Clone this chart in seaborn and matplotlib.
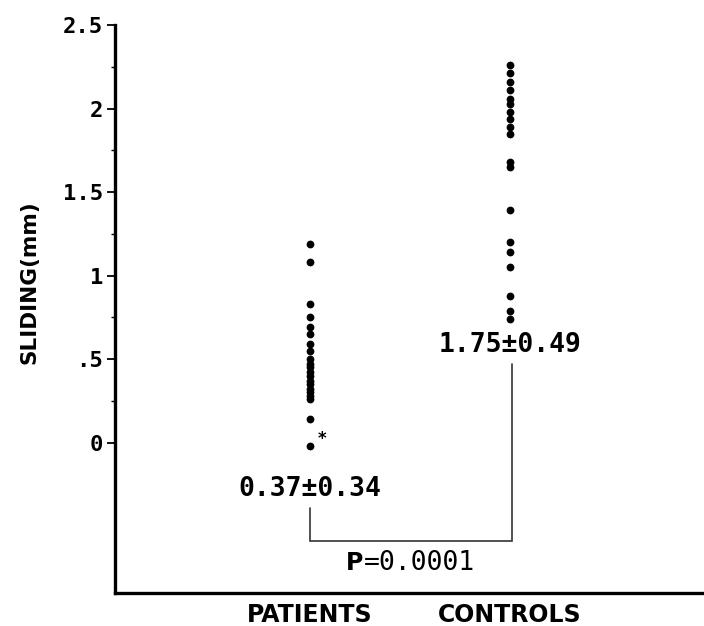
import matplotlib
matplotlib.use("Agg")
import matplotlib.pyplot as plt
import numpy as np
import pandas as pd
import seaborn as sns
from matplotlib.ticker import FixedLocator, FixedFormatter

# Sliding measurements (mm) for each group
patients = [1.19, 1.08, 0.83, 0.75, 0.69, 0.65, 0.59, 0.55, 0.50, 0.47, 0.45,
            0.42, 0.40, 0.37, 0.35, 0.32, 0.30, 0.28, 0.26, 0.14, -0.02]
controls = [2.26, 2.21, 2.16, 2.11, 2.06, 2.03, 1.98, 1.94, 1.89, 1.85, 1.68,
            1.65, 1.39, 1.20, 1.14, 1.05, 0.88, 0.79, 0.74]
groups = ["PATIENTS", "CONTROLS"]
group_stats = ["0.37\u00b10.34", "1.75\u00b10.49"]
p_value = "0.0001"
y_ticks = [0, 0.5, 1, 1.5, 2, 2.5]
y_tick_labels = ["0", ".5", "1", "1.5", "2", "2.5"]

df = pd.DataFrame({
    "group": [groups[0]] * len(patients) + [groups[1]] * len(controls),
    "sliding": patients + controls,
})

sns.set_theme(style="white")
plt.rcParams["font.family"] = ["DejaVu Sans"]
plt.rcParams["text.color"] = "black"
plt.rcParams["axes.labelcolor"] = "black"
plt.rcParams["xtick.color"] = "black"
plt.rcParams["ytick.color"] = "black"

fig = plt.figure(figsize=(7.04, 6.26), dpi=100)
ax = fig.add_axes([0.163, 0.053, 0.837, 0.907])

sns.stripplot(data=df, x="group", y="sliding", order=groups, jitter=False,
              color="black", size=5.6, linewidth=0, ax=ax)

# Outlier flag next to the lowest patient value
ax.text(0.06, 0.02, "*", ha="center", va="center", fontsize=12,
        fontweight="bold", color="black")

ax.set_xlim(-0.975, 1.97)
ax.set_ylim(-0.9, 2.5)

mono = "DejaVu Sans Mono"
ax.yaxis.set_major_locator(FixedLocator(y_ticks))
ax.yaxis.set_major_formatter(FixedFormatter(y_tick_labels))
ax.yaxis.set_minor_locator(FixedLocator([0.25, 0.75, 1.25, 1.75, 2.25]))
ax.tick_params(axis="y", which="major", direction="out", length=6, width=1.3,
               pad=2.5, labelsize=16, left=True)
ax.tick_params(axis="y", which="minor", direction="out", length=3, width=1.0,
               left=True)
for lab in ax.get_yticklabels():
    lab.set_family(mono)
    lab.set_fontweight("bold")

ax.tick_params(axis="x", length=0, pad=7, labelsize=17)
for lab in ax.get_xticklabels():
    lab.set_fontweight("bold")

ax.set_xlabel("")
ax.set_ylabel("SLIDING(mm)", fontsize=15.5, fontweight="bold")
ax.yaxis.set_label_coords(-0.128, 0.548)

for side in ("top", "right"):
    ax.spines[side].set_visible(False)
for side in ("left", "bottom"):
    ax.spines[side].set_linewidth(2.4)
    ax.spines[side].set_color("black")

# Group summaries (mean ± SD)
ax.text(0, -0.28, group_stats[0], ha="center", va="center", fontsize=19,
        family=mono, fontweight="bold", color="black")
ax.text(1, 0.585, group_stats[1], ha="center", va="center", fontsize=19,
        family=mono, fontweight="bold", color="black")

# Comparison bracket and p-value
ax.plot([0, 0, 1.01, 1.01], [-0.395, -0.587, -0.587, 0.47], color="#333333",
        linewidth=1.2, solid_joinstyle="miter")
ax.text(0.265, -0.72, "P", ha="right", va="center", fontsize=17,
        fontweight="bold", color="black")
ax.text(0.27, -0.72, "=" + p_value, ha="left", va="center", fontsize=19,
        family=mono, color="black")

fig.savefig("out.png", dpi=100)
